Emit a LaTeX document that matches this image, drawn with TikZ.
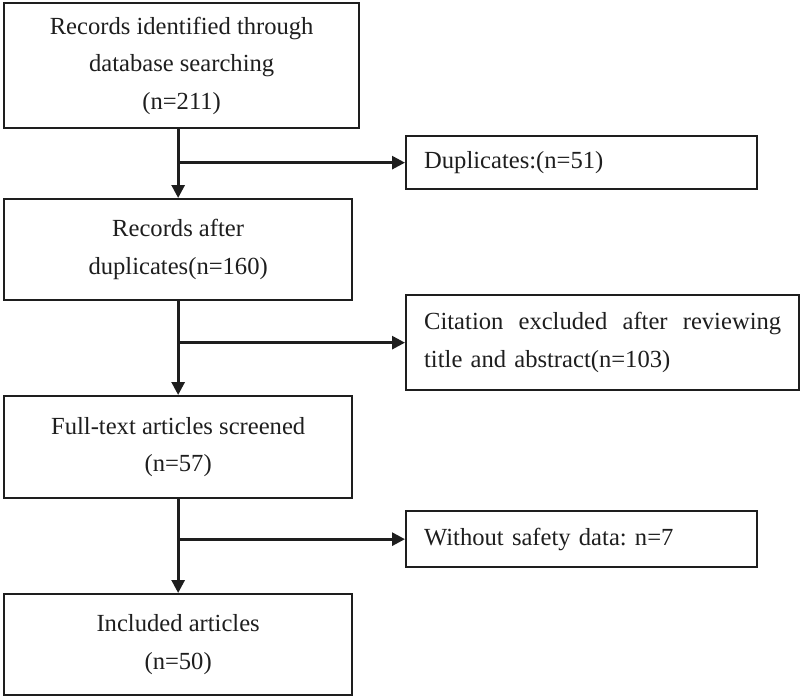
\documentclass[tikz,border=0pt]{standalone}
\usepackage{fontspec}
\setmainfont{Liberation Serif}
\usetikzlibrary{arrows.meta}
\definecolor{ink}{HTML}{1E1E1E}
\begin{document}
\frenchspacing
\begin{tikzpicture}[x=1pt,y=-1pt,
  font=\fontsize{24.6}{37.5}\selectfont,
  box/.style={draw=ink, line width=2.3pt, text=ink, anchor=north west, inner sep=0pt},
  cbox/.style={box, align=center},
  lbox/.style={box, align=left, inner xsep=18pt},
  arr/.style={draw=ink, line width=2.8pt, -{Triangle[length=13pt,width=13pt]}}]
\useasboundingbox (0,0) rectangle (800,697);
\node[cbox, minimum width=355pt, minimum height=125pt] (b1) at (3,2)
  {Records identified through\\database searching\\(n=211)};
\node[cbox, minimum width=348pt, minimum height=101pt] (b2) at (3,198)
  {Records after\\duplicates(n=160)};
\node[cbox, minimum width=348pt, minimum height=102pt] (b3) at (3,395)
  {Full-text articles screened\\(n=57)};
\node[cbox, minimum width=348pt, minimum height=101pt] (b4) at (3,593)
  {Included articles\\(n=50)};
\node[lbox, text width=315pt, minimum height=53pt] (d) at (405,135)
  {Duplicates:(n=51)};
\node[lbox, text width=357pt, minimum height=95pt] (c) at (405,294)
  {\hbox to 357pt{Citation\hfill excluded\hfill after\hfill reviewing}\\title and abstract(n=103)};
\node[lbox, text width=315pt, minimum height=56pt] (w) at (405,510)
  {Without safety data: n=7};
\coordinate (j1) at (b2.north |- d.west);
\coordinate (j2) at (b2.north |- c.west);
\coordinate (j3) at (b2.north |- w.west);
\draw[arr] (b2.north |- b1.south) -- (b2.north);
\draw[arr] (j1) -- (d.west);
\draw[arr] (b2.south) -- (b3.north);
\draw[arr] (j2) -- (c.west);
\draw[arr] (b3.south) -- (b4.north);
\draw[arr] (j3) -- (w.west);
\end{tikzpicture}
\end{document}
